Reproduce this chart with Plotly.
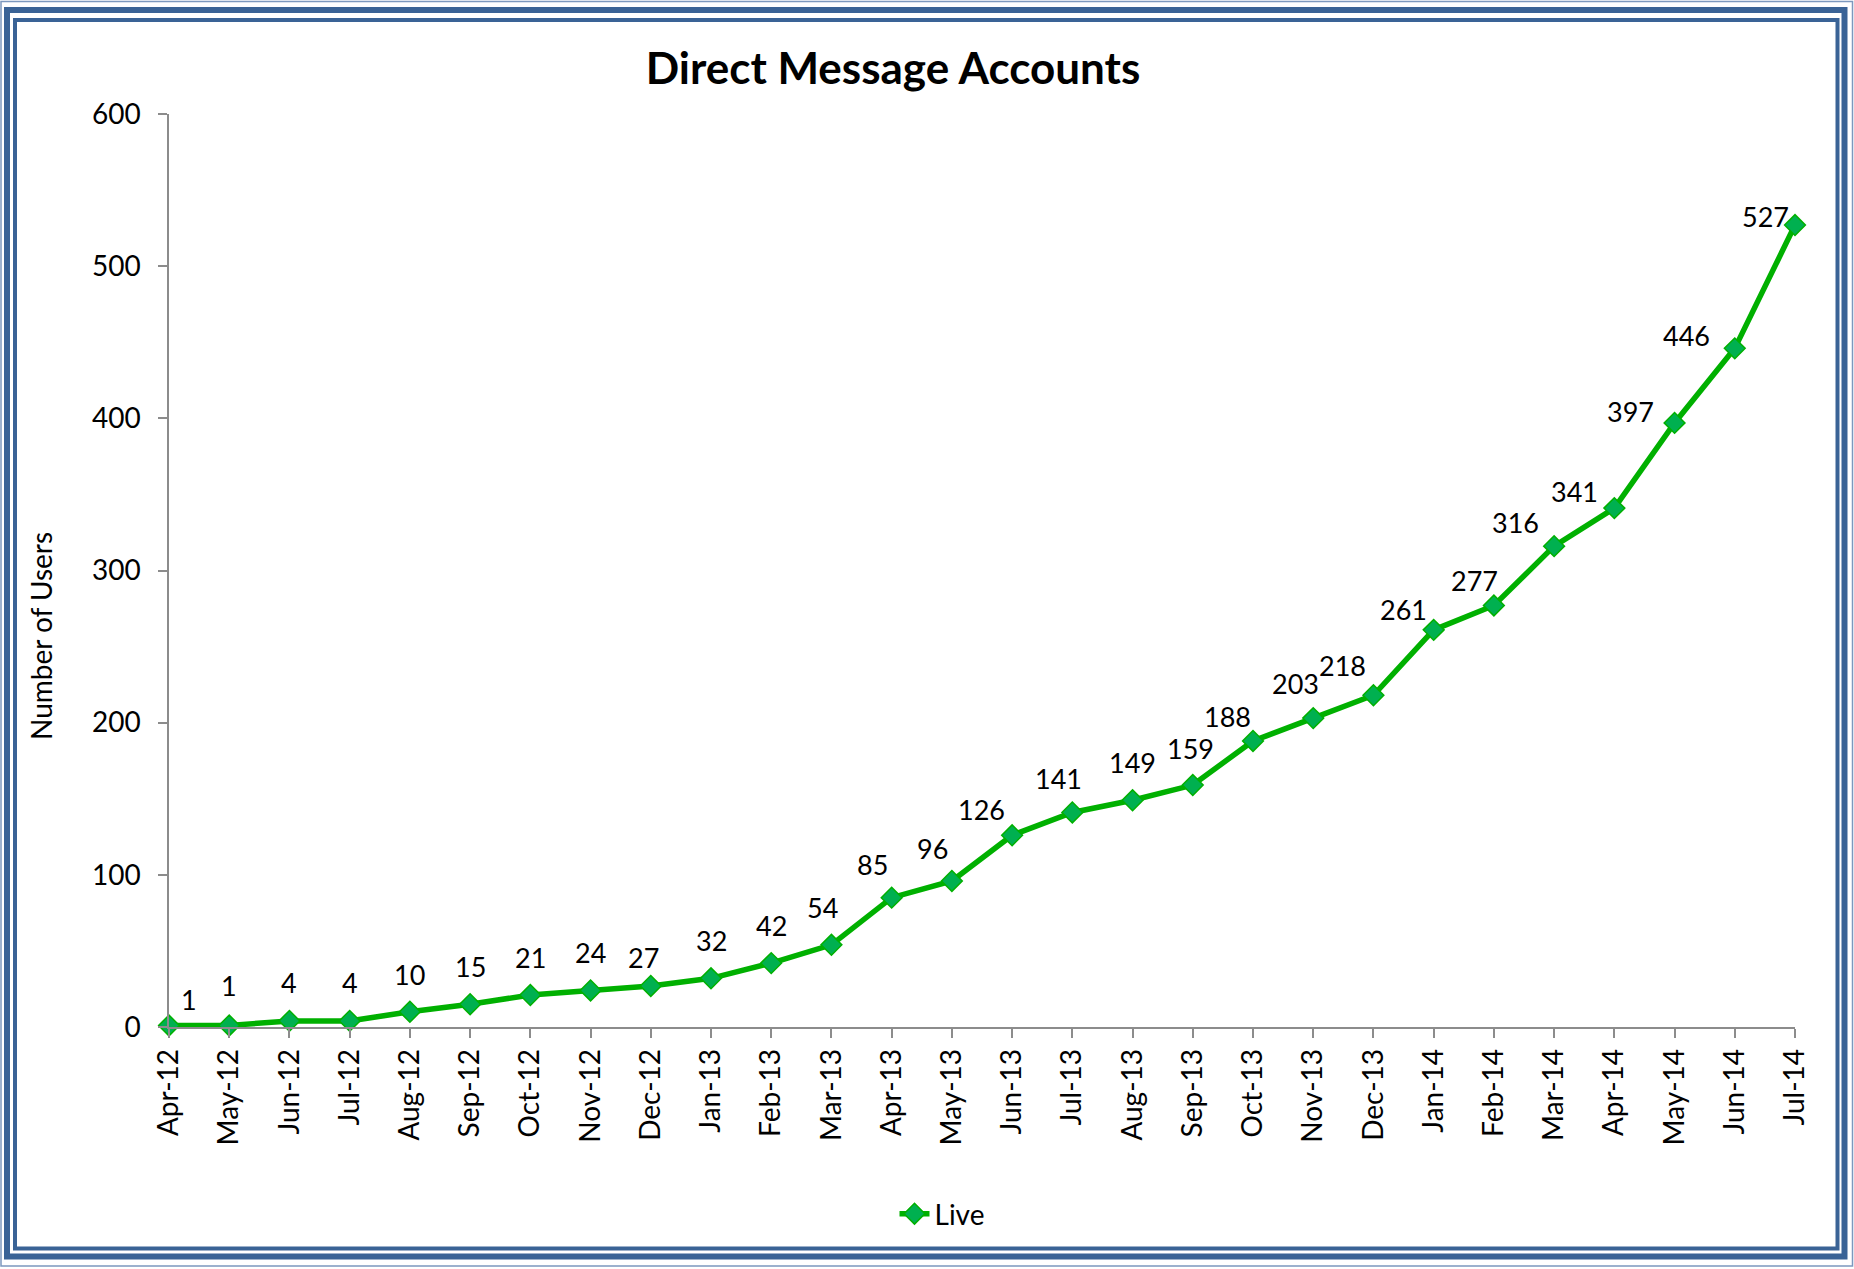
import plotly.graph_objects as go

months = ["Apr-12", "May-12", "Jun-12", "Jul-12", "Aug-12", "Sep-12", "Oct-12", "Nov-12",
          "Dec-12", "Jan-13", "Feb-13", "Mar-13", "Apr-13", "May-13", "Jun-13", "Jul-13",
          "Aug-13", "Sep-13", "Oct-13", "Nov-13", "Dec-13", "Jan-14", "Feb-14", "Mar-14",
          "Apr-14", "May-14", "Jun-14", "Jul-14"]
live_users = [1, 1, 4, 4, 10, 15, 21, 24, 27, 32, 42, 54, 85, 96, 126, 141, 149, 159, 188,
              203, 218, 261, 277, 316, 341, 397, 446, 527]
y_ticks = [0, 100, 200, 300, 400, 500, 600]

# label offsets in pixels (dx, dy) relative to each point
label_dx = [20, 0, 0, 0, 0, 0, 0, 0, -7, 0, 0, -9, -19, -19, -31, -14, 0, -2, -26, -18,
            -31, -30, -19, -39, -40, -44, -48, -30]
label_dy = [26, 40, 38, 38, 37, 38, 38, 38, 28, 38, 38, 37, 33, 32, 26, 34, 38, 37, 24, 35,
            30, 20, 25, 24, 17, 11, 13, 9]

W, H = 1854, 1269
ML, MR, MT, MB = 169, 59, 114, 242
PW, PH = W - ML - MR, H - MT - MB

def px(x):
    return (x - ML) / PW

def py(y):
    return (H - MB - y) / PH

FONT = "Lato"
GREEN_LINE = "#00B000"
GREEN_FILL = "#00B050"
AXIS = "#8C8C8C"
BLUE = "#3A6396"

fig = go.Figure()
fig.add_trace(go.Scatter(
    x=months, y=live_users, mode="lines+markers", name="Live",
    line=dict(color=GREEN_LINE, width=5.5),
    marker=dict(symbol="diamond", size=16, color=GREEN_FILL,
                line=dict(color=GREEN_LINE, width=1.5)),
    cliponaxis=False,
))

annotations = []
for i, (m, v) in enumerate(zip(months, live_users)):
    annotations.append(dict(
        x=m, y=v, xref="x", yref="y", text=str(v), showarrow=False,
        xshift=label_dx[i], yshift=label_dy[i],
        font=dict(family=FONT, size=27, color="#000000"),
        xanchor="center", yanchor="middle",
    ))

annotations.append(dict(
    x=px(41), y=py(636), xref="paper", yref="paper", text="Number of Users",
    textangle=-90, showarrow=False, font=dict(family=FONT, size=28, color="#000000"),
    xanchor="center", yanchor="middle",
))

shapes = []
def frame(l, t, r, b, w, color):
    shapes.append(dict(type="rect", xref="paper", yref="paper",
                       x0=px(l), x1=px(r), y0=py(b), y1=py(t),
                       line=dict(color=color, width=w), fillcolor="rgba(0,0,0,0)",
                       layer="below"))

frame(1, 1.5, 1852.5, 1266, 1.5, "#7C98BE")
frame(7, 10, 1844.5, 1256.5, 6, BLUE)
frame(15, 20, 1837.5, 1248.5, 4, BLUE)

fig.update_layout(
    width=W, height=H,
    margin=dict(l=ML, r=MR, t=MT, b=MB, pad=0),
    paper_bgcolor="white", plot_bgcolor="white",
    title=dict(text="<b>Direct Message Accounts</b>", x=893 / W, xref="container",
               xanchor="center", y=1 - 69 / H, yref="container", yanchor="middle",
               font=dict(family=FONT, size=44, color="#000000")),
    xaxis=dict(
        type="category", categoryorder="array", categoryarray=months,
        range=[0, len(months) - 1], showgrid=False, zeroline=False,
        showline=True, linecolor=AXIS, linewidth=1.5,
        ticks="outside", ticklen=9, tickwidth=1.5, tickcolor=AXIS,
        tickangle=-90, tickfont=dict(family=FONT, size=28, color="#000000"),
    ),
    yaxis=dict(
        range=[0, 600], tickvals=y_ticks, showgrid=False, zeroline=False,
        showline=True, linecolor=AXIS, linewidth=1.5,
        ticks="outside", ticklen=9, tickwidth=1.5, tickcolor=AXIS,
        ticklabelstandoff=12,
        tickfont=dict(family=FONT, size=28, color="#000000"),
    ),
    showlegend=True,
    legend=dict(x=px(942), y=py(1214), xanchor="center", yanchor="middle",
                orientation="h", font=dict(family=FONT, size=28, color="#000000"),
                bgcolor="rgba(0,0,0,0)"),
    annotations=annotations,
    shapes=shapes,
)

fig.write_html("out.html", config={"displayModeBar": False},
               post_script="document.body.style.margin='0';document.body.style.overflow='hidden';")
